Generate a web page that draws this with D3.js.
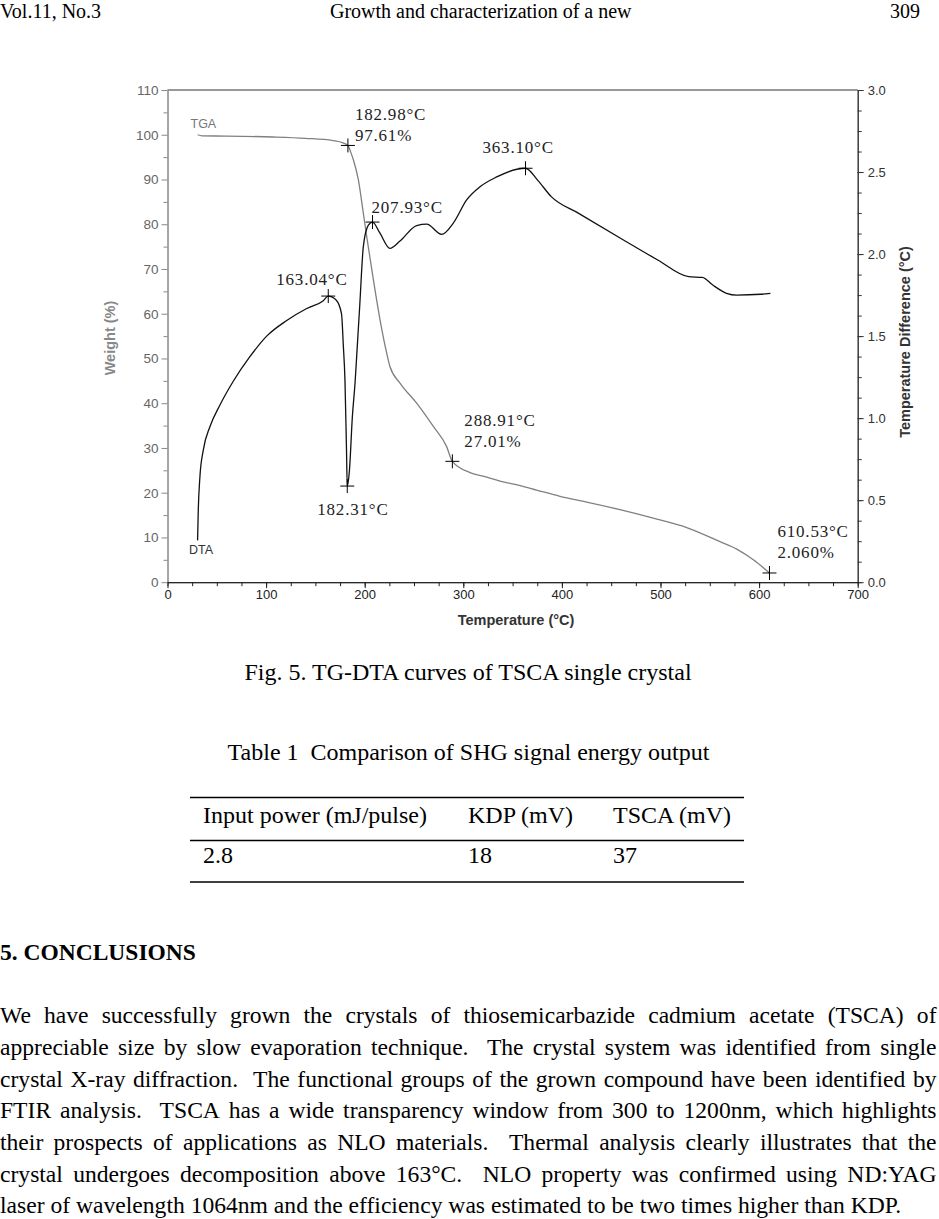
<!DOCTYPE html>
<html>
<head>
<meta charset="utf-8">
<title>TG-DTA curves of TSCA single crystal</title>
<script src="https://d3js.org/d3.v7.min.js"></script>
<style>
  body { margin: 0; background: #fff; }
  svg { display: block; }
  .serif { font-family: "Liberation Serif", "Times New Roman", serif; fill: #000; white-space: pre; }
  .body { font-size: 23.6px; }
  .sans { font-family: "Liberation Sans", Arial, sans-serif; }
  .note { font-family: "Liberation Serif", "Times New Roman", serif; font-size: 17px; letter-spacing: 0.8px; fill: #222; }
</style>
</head>
<body>
<svg id="page" width="939" height="1219"></svg>
<script>
// TGA curve: temperature (°C) -> weight (%)
const tgaTemp = [30.6, 35, 60, 107, 140, 168, 178, 182.98, 186, 188.5, 193.5, 198.6, 202, 208.8, 215.5,
  222, 225.6, 235.8, 252.7, 269.6, 283.1, 288.91, 306.8, 323.7, 337.2, 357.5, 374.4, 398, 425.2, 458.9,
  492.7, 526.6, 560.4, 577.3, 594.2, 610.53];
const tgaWeight = [100, 99.75, 99.7, 99.5, 99.2, 98.7, 98.2, 97.61, 96, 94.4, 90, 82.5, 77.3, 67.6, 58.7,
  51.5, 48.2, 44.5, 40, 34.8, 30.3, 27.01, 24.5, 23.5, 22.6, 21.6, 20.6, 19.2, 17.9, 16.2,
  14.3, 12.2, 9.05, 7.4, 5.0, 2.06];

// DTA curve: temperature (°C) -> temperature difference (°C)
const dtaTemp = [30.5, 31.2, 32.9, 36.3, 43.1, 53.2, 66.7, 83, 100.6, 120.9, 141.2, 158, 163.04, 171,
  176.5, 178.3, 180, 181.5, 182.31, 184.5, 187.5, 190.2, 192, 195, 198.6, 203.7, 207.93, 215.5, 225.6,
  235.8, 252.7, 262.9, 278, 290, 303.4, 316.9, 333.9, 354.3, 363.1, 375.3, 389.2, 417, 462.4, 497.2,
  528.6, 542.5, 553, 566.9, 577.4, 601.7, 611.5];
const dtaDiff = [0.255, 0.436, 0.644, 0.805, 0.949, 1.08, 1.225, 1.37, 1.5, 1.595, 1.668, 1.716, 1.744, 1.72,
  1.636, 1.445, 1.227, 0.818, 0.586, 0.68, 1.01, 1.214, 1.39, 1.69, 2.045, 2.176, 2.195, 2.127, 2.035,
  2.08, 2.174, 2.182, 2.12, 2.19, 2.33, 2.41, 2.47, 2.517, 2.523, 2.451, 2.35, 2.248, 2.086, 1.964,
  1.862, 1.858, 1.811, 1.761, 1.75, 1.755, 1.761];

// marked points
const tgaMarkTemp = [182.98, 288.91, 610.53];
const tgaMarkWeight = [97.61, 27.01, 2.060];
const dtaMarkTemp = [163.04, 182.31, 207.93, 363.10];
const dtaMarkDiff = [1.744, 0.586, 2.195, 2.523];

// ticks
const xTicks = [0, 100, 200, 300, 400, 500, 600, 700];
const weightTicks = [0, 10, 20, 30, 40, 50, 60, 70, 80, 90, 100, 110];
const diffTicks = [0, 0.5, 1.0, 1.5, 2.0, 2.5, 3.0];

// table
const tableHead = ["Input power (mJ/pulse)", "KDP (mV)", "TSCA (mV)"];
const tableRow = ["2.8", "18", "37"];

const bodyLines = [
  "We have successfully grown the crystals of thiosemicarbazide cadmium acetate (TSCA) of",
  "appreciable size by slow evaporation technique.  The crystal system was identified from single",
  "crystal X-ray diffraction.  The functional groups of the grown compound have been identified by",
  "FTIR analysis.  TSCA has a wide transparency window from 300 to 1200nm, which highlights",
  "their prospects of applications as NLO materials.  Thermal analysis clearly illustrates that the",
  "crystal undergoes decomposition above 163°C.  NLO property was confirmed using ND:YAG",
  "laser of wavelength 1064nm and the efficiency was estimated to be two times higher than KDP."
];

const svg = d3.select("#page");

// ---------- running header ----------
svg.append("text").attr("class", "serif").attr("font-size", 20).attr("x", 0).attr("y", 18).text("Vol.11, No.3");
svg.append("text").attr("class", "serif").attr("font-size", 20).attr("x", 330).attr("y", 18).text("Growth and characterization of a new");
svg.append("text").attr("class", "serif").attr("font-size", 20).attr("x", 920).attr("y", 18).attr("text-anchor", "end").text("309");

// ---------- chart ----------
const x = d3.scaleLinear().domain([0, 700]).range([167.5, 857.7]);
const yW = d3.scaleLinear().domain([0, 110]).range([582.2, 90]);
const yD = d3.scaleLinear().domain([0, 3]).range([582.2, 90]);

const chart = svg.append("g");

// top border
chart.append("line")
  .attr("x1", x(0)).attr("x2", x(700)).attr("y1", yW(110)).attr("y2", yW(110))
  .attr("stroke", "#333").attr("stroke-width", 1);

function styleAxis(g, lineColor, textColor, size) {
  g.attr("font-family", "\"Liberation Sans\", Arial, sans-serif").attr("font-size", size);
  g.selectAll("path, line").attr("stroke", lineColor);
  g.selectAll("text").attr("fill", textColor);
}

// left (weight) axis
chart.append("g").attr("transform", `translate(${x(0)},0)`)
  .call(d3.axisLeft(yW).tickValues(d3.range(5, 110, 10)).tickSize(4).tickSizeOuter(0).tickFormat(""))
  .call(g => styleAxis(g, "#888", "#666", 13.5));
chart.append("g").attr("transform", `translate(${x(0)},0)`)
  .call(d3.axisLeft(yW).tickValues(weightTicks).tickSize(6).tickSizeOuter(0).tickPadding(3))
  .call(g => styleAxis(g, "#888", "#666", 13.5));

// right (DTA) axis
chart.append("g").attr("transform", `translate(${x(700)},0)`)
  .call(d3.axisRight(yD).tickValues(d3.range(0, 3.01, 0.125)).tickSize(4).tickSizeOuter(0).tickFormat(""))
  .call(g => styleAxis(g, "#333", "#333", 13));
chart.append("g").attr("transform", `translate(${x(700)},0)`)
  .call(d3.axisRight(yD).tickValues(diffTicks).tickSize(6).tickSizeOuter(0).tickPadding(4).tickFormat(d3.format(".1f")))
  .call(g => styleAxis(g, "#333", "#333", 13));

// bottom (temperature) axis
chart.append("g").attr("transform", `translate(0,${yW(0)})`)
  .call(d3.axisBottom(x).tickValues(d3.range(0, 701, 25)).tickSize(4).tickSizeOuter(0).tickFormat(""))
  .call(g => styleAxis(g, "#222", "#222", 13));
chart.append("g").attr("transform", `translate(0,${yW(0)})`)
  .call(d3.axisBottom(x).tickValues(xTicks).tickSize(6).tickSizeOuter(0).tickPadding(2))
  .call(g => styleAxis(g, "#222", "#222", 13));

// axis titles
chart.append("text").attr("class", "sans").attr("font-size", 14.5).attr("font-weight", "bold")
  .attr("fill", "#333").attr("text-anchor", "middle").attr("x", 516).attr("y", 625)
  .text("Temperature (°C)");
chart.append("text").attr("class", "sans").attr("font-size", 14.5).attr("font-weight", "bold")
  .attr("fill", "#888").attr("text-anchor", "middle")
  .attr("transform", "translate(115,338) rotate(-90)")
  .text("Weight (%)");
chart.append("text").attr("class", "sans").attr("font-size", 14.5).attr("font-weight", "bold")
  .attr("fill", "#333").attr("text-anchor", "middle")
  .attr("transform", "translate(910,342) rotate(-90)")
  .text("Temperature Difference (°C)");

// curves
const tgaLine = d3.line().x(i => x(tgaTemp[i])).y(i => yW(tgaWeight[i])).curve(d3.curveMonotoneX);
const dtaLine = d3.line().x(i => x(dtaTemp[i])).y(i => yD(dtaDiff[i])).curve(d3.curveMonotoneX);

chart.append("path").attr("d", tgaLine(d3.range(tgaTemp.length)))
  .attr("fill", "none").attr("stroke", "#808080").attr("stroke-width", 1.3);
chart.append("path").attr("d", dtaLine(d3.range(dtaTemp.length)))
  .attr("fill", "none").attr("stroke", "#111").attr("stroke-width", 1.3);

// series names
chart.append("text").attr("class", "sans").attr("font-size", 12.5).attr("fill", "#777")
  .attr("x", 190.5).attr("y", 127.5).text("TGA");
chart.append("text").attr("class", "sans").attr("font-size", 12.5).attr("fill", "#333")
  .attr("x", 189).attr("y", 554).text("DTA");

// markers and notes
const cross = "M-7,0H7M0,-7V7";
// label offsets relative to the marker, in px
const tgaNoteOffset = [[7, -25, -4], [12, -35, -14], [8, -36, -15]];
const dtaNoteOffset = [[-52, -11], [-30, 29], [-1, -9], [-43, -15]];

tgaMarkTemp.forEach((t, i) => {
  const px = x(t), py = yW(tgaMarkWeight[i]);
  const o = tgaNoteOffset[i];
  chart.append("path").attr("d", cross).attr("transform", `translate(${px},${py})`)
    .attr("stroke", "#000").attr("stroke-width", 1).attr("fill", "none");
  chart.append("text").attr("class", "note").attr("x", px + o[0]).attr("y", py + o[1]).text(`${t.toFixed(2)}°C`);
  chart.append("text").attr("class", "note").attr("x", px + o[0]).attr("y", py + o[2]).text(`${tgaMarkWeight[i].toPrecision(4)}%`);
});

dtaMarkTemp.forEach((t, i) => {
  const px = x(t), py = yD(dtaMarkDiff[i]);
  const o = dtaNoteOffset[i];
  chart.append("path").attr("d", cross).attr("transform", `translate(${px},${py})`)
    .attr("stroke", "#000").attr("stroke-width", 1).attr("fill", "none");
  chart.append("text").attr("class", "note").attr("x", px + o[0]).attr("y", py + o[1]).text(`${t.toFixed(2)}°C`);
});

// ---------- caption and table ----------
svg.append("text").attr("class", "serif").attr("font-size", 24).attr("text-anchor", "middle")
  .attr("x", 468).attr("y", 680).text("Fig. 5. TG-DTA curves of TSCA single crystal");
svg.append("text").attr("class", "serif").attr("font-size", 24).attr("text-anchor", "middle")
  .attr("x", 468.5).attr("y", 760).text("Table 1  Comparison of SHG signal energy output");

const colX = [203, 468, 613];
[797.5, 840.5, 882].forEach(yy => {
  svg.append("line").attr("x1", 190).attr("x2", 744).attr("y1", yy).attr("y2", yy)
    .attr("stroke", "#000").attr("stroke-width", 1.3);
});
tableHead.forEach((h, i) => {
  svg.append("text").attr("class", "serif").attr("font-size", 24).attr("x", colX[i]).attr("y", 823).text(h);
});
tableRow.forEach((v, i) => {
  svg.append("text").attr("class", "serif").attr("font-size", 24).attr("x", colX[i]).attr("y", 863).text(v);
});

// ---------- conclusions ----------
svg.append("text").attr("class", "serif").attr("font-size", 23.5).attr("font-weight", "bold")
  .attr("x", 0).attr("y", 960).text("5. CONCLUSIONS");

const bodyG = svg.append("g");

function justify(str, y, x0, x1) {
  const parts = str.split(/( +)/);
  const words = parts.filter((p, i) => i % 2 === 0);
  const gaps = parts.filter((p, i) => i % 2 === 1).map(p => p.length);
  const widths = words.map(w => {
    const t = bodyG.append("text").attr("class", "serif body").text(w);
    const wd = t.node().getComputedTextLength();
    t.remove();
    return wd;
  });
  const unit = (x1 - x0 - d3.sum(widths)) / d3.sum(gaps);
  let cx = x0;
  words.forEach((w, i) => {
    bodyG.append("text").attr("class", "serif body").attr("x", cx).attr("y", y).text(w);
    cx += widths[i] + (gaps[i] || 0) * unit;
  });
}

bodyLines.forEach((line, i) => {
  const y = 1023.3 + i * 31.67;
  if (i < bodyLines.length - 1) justify(line, y, 0, 936.5);
  else bodyG.append("text").attr("class", "serif body").attr("x", 0).attr("y", y).text(line);
});
</script>
</body>
</html>
